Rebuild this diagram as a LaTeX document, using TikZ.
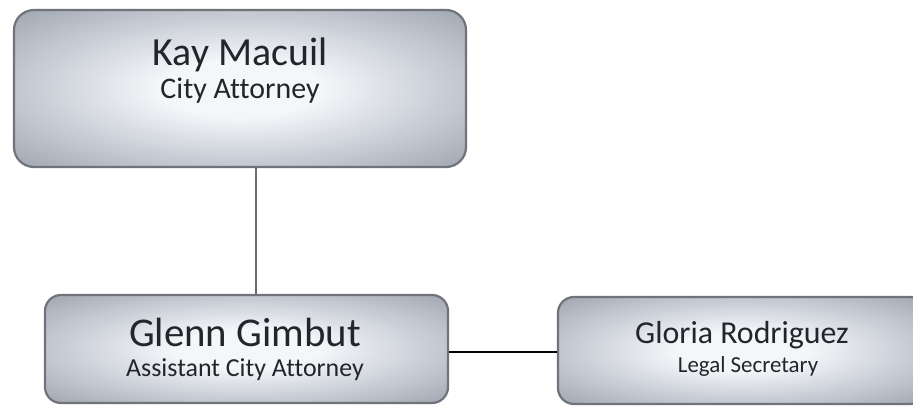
\documentclass[tikz,border=0pt]{standalone}
\usepackage{fontspec}
\setmainfont[Ligatures=NoCommon]{Carlito}
\usetikzlibrary{calc}

\definecolor{metalHi}{RGB}{244,246,249}
\definecolor{metalMid}{RGB}{196,201,210}
\definecolor{metalEdge}{RGB}{146,152,164}
\definecolor{boxLine}{RGB}{112,116,122}
\definecolor{txt}{RGB}{34,38,42}
\definecolor{vline}{RGB}{105,107,110}

% brushed-metal look: bright core fading to steel grey at the rim
\pgfdeclareradialshading{metal}{\pgfpoint{0bp}{0bp}}{%
  color(0bp)=(metalHi); color(9bp)=(metalHi); color(24bp)=(metalMid);
  color(40bp)=(metalEdge); color(75bp)=(metalEdge)}

\tikzset{
  role/.style={rectangle, rounded corners=16bp, draw=boxLine, line width=2.2bp,
    shading=metal, inner sep=0pt},
  lbl/.style={anchor=base, text=txt, inner sep=0pt},
  link/.style={line width=2.2bp},
}

\begin{document}
\begin{tikzpicture}[x=1bp, y=1bp]
  \useasboundingbox[fill=white] (0,0) rectangle (913,406);

  \begin{scope}
    \clip (0,0) rectangle (913,406);
    % boxes
    \node[role, minimum width=452bp, minimum height=157bp, rounded corners=20bp]
      (cityatty) at (240,317.5) {};
    \node[role, minimum width=403bp, minimum height=108bp] (asst) at (246.5,57) {};
    \node[role, minimum width=368bp, minimum height=107bp] (secr) at (742,55.5) {};

    % connectors
    \draw[link, vline] ([xshift=16bp]cityatty.south) -- ([xshift=16bp]cityatty.south |- asst.north);
    \draw[link, black, line width=1.8bp] ([yshift=-3bp]asst.east) -- ([yshift=-3bp]asst.east -| secr.west);

    % labels
    \node[lbl, font=\fontsize{40}{40}\selectfont] (n1) at (240,341) {Kay Macuil};
    \node[lbl, font=\fontsize{30}{30}\selectfont] (t1) at (240,308) {City Attorney};
    \node[lbl, font=\fontsize{41}{41}\selectfont] (n2) at (245,60) {Glenn Gimbut};
    \node[lbl, font=\fontsize{26}{26}\selectfont] (t2) at (245,30) {Assistant City Attorney};
    \node[lbl, font=\fontsize{32}{32}\selectfont] (n3) at (742,63) {Gloria Rodriguez};
    \node[lbl, font=\fontsize{23}{23}\selectfont] (t3) at (748,34) {Legal Secretary};
  \end{scope}
\end{tikzpicture}
\end{document}
